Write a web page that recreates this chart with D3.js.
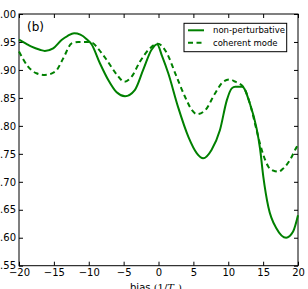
<!DOCTYPE html>
<html>
<head>
<meta charset="utf-8">
<script src="https://cdn.jsdelivr.net/npm/d3@7"></script>
<style>
  body { margin: 0; background: #fff; }
  text { font-family: "DejaVu Sans", sans-serif; }
  .axis text { font-size: 10px; fill: #000; }
  .axis line { stroke: #000; }
</style>
</head>
<body>
<div id="canvas"></div>
<script>
// bias values (1/T_c) and transmission-like quantity for both curves
var biasNP = [-20, -19, -18.2, -17, -16.3, -15.1, -13.9, -13, -12.1, -11.2, -10.3, -9.6, -8.4, -7.2, -6.0, -4.8, -3.4, -2.2, -1.0, -0.2,
              0.5, 1.4, 2.8, 4.3, 5.5, 6.4, 7.6, 8.8, 9.8, 10.5, 11.0, 12.0, 13.1, 14.07, 14.55, 15.03, 15.75, 16.94, 18.3, 19.3, 20];
var nonPert = [0.954, 0.947, 0.9415, 0.936, 0.934, 0.9386, 0.9535, 0.961, 0.9655, 0.963, 0.955, 0.946, 0.912, 0.882, 0.860, 0.853, 0.864, 0.900, 0.936, 0.946,
               0.925, 0.894, 0.834, 0.780, 0.751, 0.742, 0.757, 0.792, 0.846, 0.867, 0.870, 0.870, 0.840, 0.795, 0.760, 0.709, 0.655, 0.616, 0.600, 0.611, 0.640];

var biasCM = [-20, -18.7, -17.5, -16.3, -14.8, -13.65, -12.45, -11.5, -10.3, -9.4, -8.86, -7.43, -6.0, -4.9, -3.85, -2.65, -1.2, -0.1,
              1.2, 2.4, 3.8, 4.8, 5.5, 6.7, 8.1, 9.3, 10.2, 11.0, 12.2, 13.1, 14.07, 14.55, 15.03, 15.75, 16.46, 17.2, 17.9, 18.85, 19.8, 20];
var coherent = [0.933, 0.906, 0.894, 0.891, 0.897, 0.921, 0.9475, 0.950, 0.950, 0.948, 0.941, 0.918, 0.892, 0.879, 0.888, 0.915, 0.939, 0.947,
                0.930, 0.894, 0.852, 0.828, 0.821, 0.828, 0.858, 0.879, 0.883, 0.879, 0.869, 0.840, 0.792, 0.768, 0.748, 0.727, 0.720, 0.718, 0.724, 0.739, 0.762, 0.766];

var xTicks = [-20, -15, -10, -5, 0, 5, 10, 15, 20];
var yTicks = [0.55, 0.60, 0.65, 0.70, 0.75, 0.80, 0.85, 0.90, 0.95, 1.00];
var seriesNames = ['non-perturbative', 'coherent mode'];

var m = {t:14, r:10, b:23.3, l:19};
var outerWidth = 308, outerHeight = 289;
var w = outerWidth - m.l - m.r,
    h = outerHeight - m.t - m.b;

var svg = d3.select('#canvas')
    .append('svg')
    .attr('width', outerWidth)
    .attr('height', outerHeight);

var plot = svg.append('g')
    .attr('transform', 'translate(' + m.l + ',' + m.t + ')');

var scaleX = d3.scaleLinear().domain([-20, 20]).range([0, w]);
var scaleY = d3.scaleLinear().domain([0.55, 1.0]).range([h, 0]);

//ticks all round, pointing inward
plot.append('g').attr('class', 'axis')
    .attr('transform', 'translate(0,' + h + ')')
    .call(d3.axisBottom(scaleX).tickValues(xTicks).tickSize(-4).tickPadding(3).tickFormat(d3.format('d')))
    .call(function(g){ g.select('.domain').remove(); });
plot.append('g').attr('class', 'axis')
    .call(d3.axisTop(scaleX).tickValues(xTicks).tickSize(-4).tickFormat(''))
    .call(function(g){ g.select('.domain').remove(); });
plot.append('g').attr('class', 'axis')
    .call(d3.axisLeft(scaleY).tickValues(yTicks).tickSize(-4).tickPadding(3).tickFormat(d3.format('.2f')))
    .call(function(g){ g.select('.domain').remove(); });
plot.append('g').attr('class', 'axis')
    .attr('transform', 'translate(' + w + ',0)')
    .call(d3.axisRight(scaleY).tickValues(yTicks).tickSize(-4).tickFormat(''))
    .call(function(g){ g.select('.domain').remove(); });

plot.append('rect')
    .attr('width', w).attr('height', h)
    .attr('fill', 'none').attr('stroke', '#000').attr('stroke-width', 1);

var line = d3.line()
    .x(function(d){ return scaleX(d[0]); })
    .y(function(d){ return scaleY(d[1]); })
    .curve(d3.curveMonotoneX);

plot.append('path')
    .datum(d3.zip(biasCM, coherent))
    .attr('d', line)
    .attr('fill', 'none').attr('stroke', '#008000')
    .attr('stroke-width', 2).attr('stroke-dasharray', '5,3.5');

plot.append('path')
    .datum(d3.zip(biasNP, nonPert))
    .attr('d', line)
    .attr('fill', 'none').attr('stroke', '#008000')
    .attr('stroke-width', 2);

plot.append('text')
    .attr('x', 8).attr('y', 17)
    .style('font-size', '12px')
    .text('(b)');

//x label, partly cut by the bottom edge
var xl = svg.append('text')
    .attr('x', 130).attr('y', 290.5)
    .style('font-size', '10px');
xl.append('tspan').text('bias ');
xl.append('tspan').style('font-family', '"DejaVu Serif", serif').text('(1/');
xl.append('tspan').style('font-family', '"DejaVu Serif", serif').style('font-style', 'italic').text('T');
xl.append('tspan').style('font-family', '"DejaVu Serif", serif').style('font-style', 'italic')
    .style('font-size', '7px').attr('dy', 2).text('c');
xl.append('tspan').style('font-family', '"DejaVu Serif", serif').attr('dy', -2).text(')');

//legend
var lg = svg.append('g').attr('transform', 'translate(184,23.3)');
lg.append('rect')
    .attr('width', 102.7).attr('height', 28.4)
    .attr('fill', '#fff').attr('stroke', '#000').attr('stroke-width', 1);
seriesNames.forEach(function(name, i){
    var y = 7 + i * 12.4;
    lg.append('line')
        .attr('x1', 4).attr('x2', 20).attr('y1', y).attr('y2', y)
        .attr('stroke', '#008000').attr('stroke-width', 2)
        .attr('stroke-dasharray', i == 1 ? '5,3.5' : null);
    lg.append('text')
        .attr('x', 29).attr('y', y)
        .attr('dominant-baseline', 'central')
        .style('font-size', '8.5px')
        .text(name);
});
</script>
</body>
</html>
